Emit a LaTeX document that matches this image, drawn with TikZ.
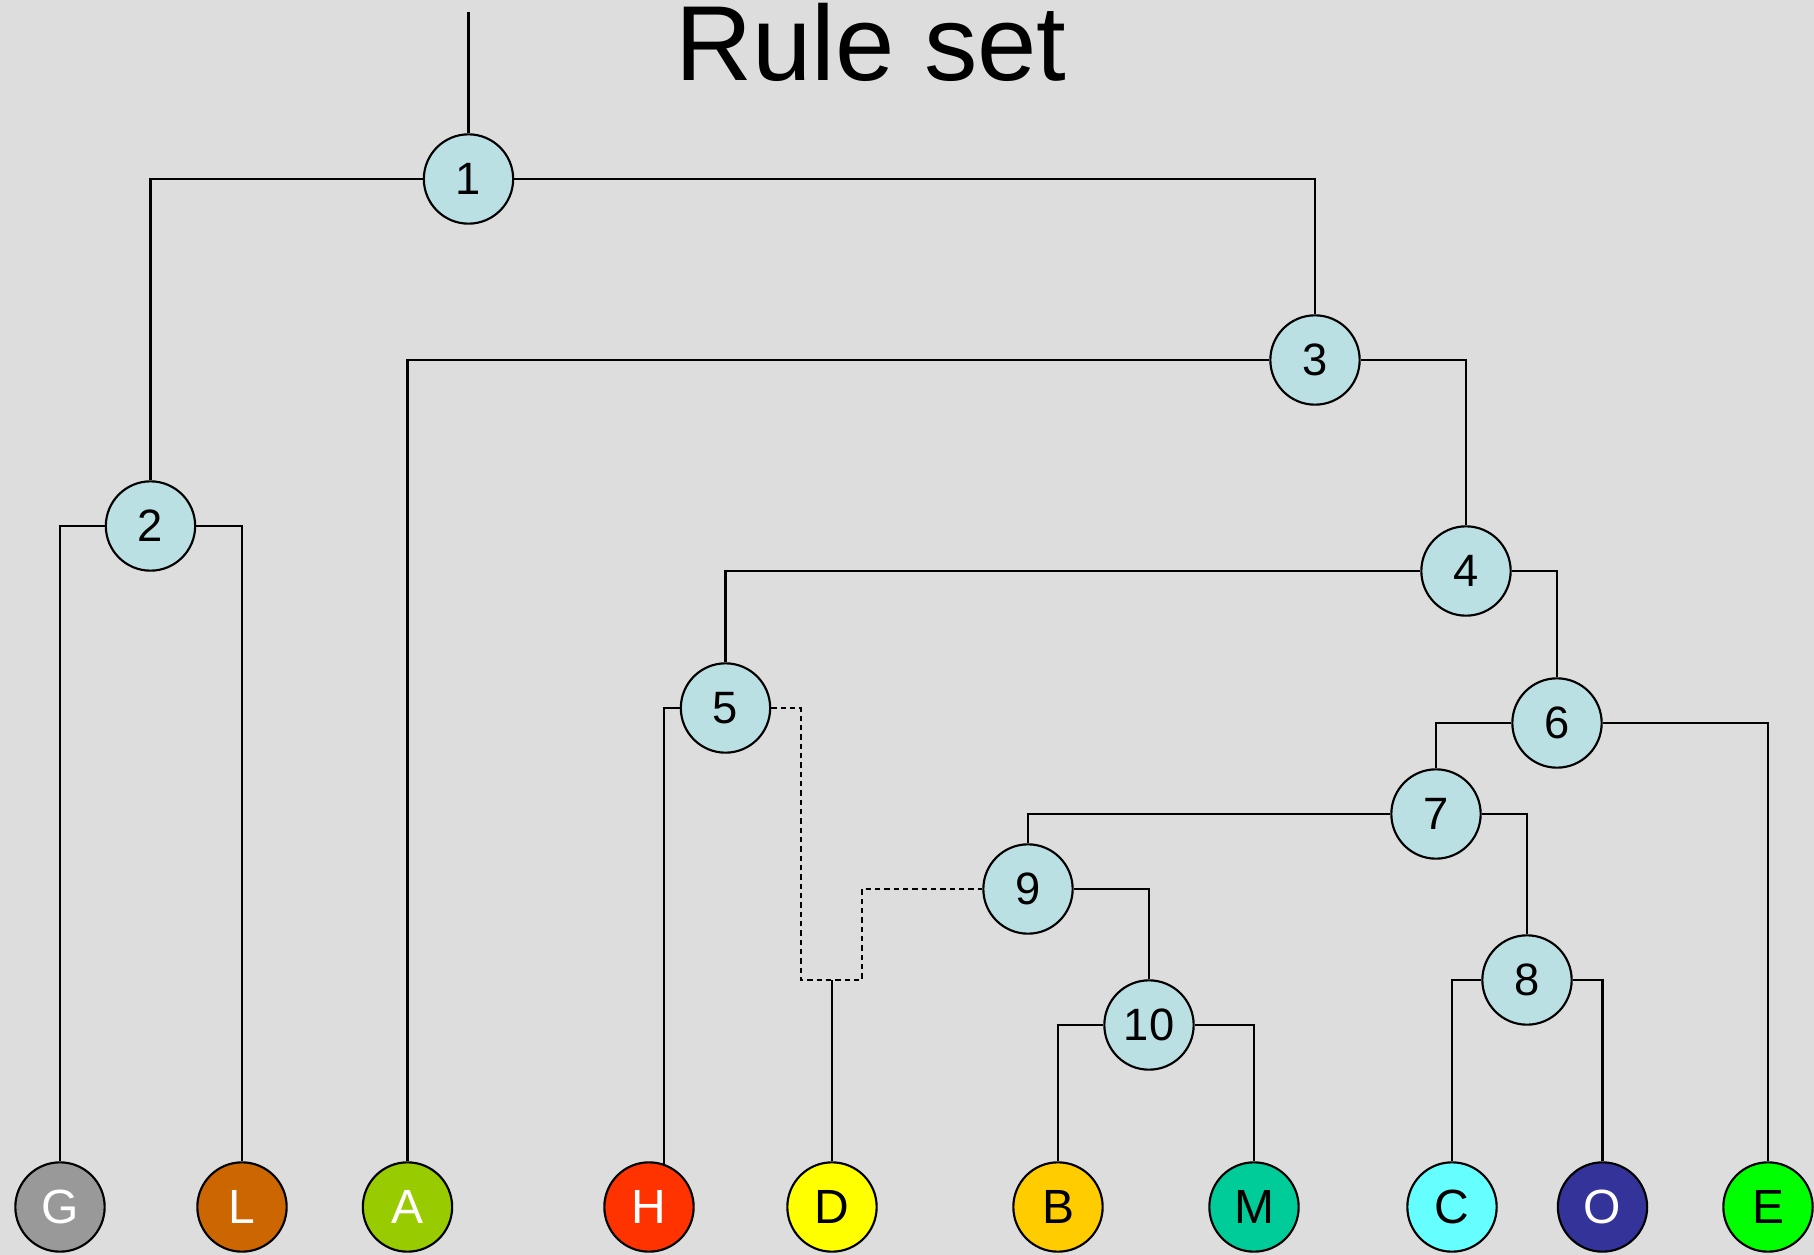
\documentclass[tikz,border=0pt]{standalone}
\usepackage{fontspec}
\setmainfont{Liberation Sans}
\definecolor{bgc}{HTML}{DDDDDD}
\definecolor{inner}{HTML}{BBE0E3}
\definecolor{cG}{HTML}{999999}
\definecolor{cL}{HTML}{CC6600}
\definecolor{cA}{HTML}{99CC00}
\definecolor{cH}{HTML}{FF3300}
\definecolor{cD}{HTML}{FFFF00}
\definecolor{cB}{HTML}{FFCC00}
\definecolor{cM}{HTML}{00CC99}
\definecolor{cC}{HTML}{66FFFF}
\definecolor{cO}{HTML}{333399}
\definecolor{cE}{HTML}{00FF00}
\tikzset{
  rule/.style={circle, draw=black, line width=1.6pt, fill=inner, minimum size=67pt, inner sep=0pt, font=\fontsize{34}{36}\selectfont},
  leaf/.style={circle, draw=black, line width=1.6pt, fill=#1, minimum size=67pt, inner sep=0pt, font=\fontsize{36}{38}\selectfont},
  conn/.style={line width=1.6pt, black},
  dconn/.style={line width=1.6pt, black, dash pattern=on 4pt off 3pt}
}
\begin{document}
\begin{tikzpicture}[x=0.75pt, y=-0.75pt]
\fill[bgc] (0,0) rectangle (1814,1255);
\useasboundingbox (0,0) rectangle (1814,1255);
\node[anchor=base, font=\fontsize{80}{84}\selectfont] (title) at (871,81) {Rule set};
% leaves
\node[leaf=cG, text=white] (G) at (60,1207) {G};
\node[leaf=cL, text=white] (L) at (242,1207) {L};
\node[leaf=cA, text=white] (A) at (407.5,1207) {A};
\node[leaf=cH, text=white] (H) at (649,1207) {H};
\node[leaf=cD] (D) at (832,1207) {D};
\node[leaf=cB] (B) at (1058,1207) {B};
\node[leaf=cM] (M) at (1254,1207) {M};
\node[leaf=cC] (C) at (1452,1207) {C};
\node[leaf=cO, text=white] (O) at (1602.5,1207) {O};
\node[leaf=cE] (E) at (1768,1207) {E};
% rule nodes
\node[rule] (n1) at (468.5,179) {1};
\node[rule] (n2) at (150.5,526) {2};
\node[rule] (n3) at (1315,360) {3};
\node[rule] (n4) at (1466,571) {4};
\node[rule] (n5) at (725.5,708) {5};
\node[rule] (n6) at (1557,723) {6};
\node[rule] (n7) at (1436,814) {7};
\node[rule] (n8) at (1527,980) {8};
\node[rule] (n9) at (1028,889) {9};
\node[rule] (n10) at (1149,1025) {10};
\coordinate (top) at (468.5,12);
\coordinate (d1) at (801,980);
\coordinate (d2) at (862,980);
\draw[conn] (top) -- (n1.north);
\draw[conn] (n1.west) -| (n2.north);
\draw[conn] (n1.east) -| (n3.north);
\draw[conn] (n2.west) -| (G.north);
\draw[conn] (n2.east) -| (L.north);
\draw[conn] (n3.west) -| (A.north);
\draw[conn] (n3.east) -| (n4.north);
\draw[conn] (n4.west) -| (n5.north);
\draw[conn] (n4.east) -| (n6.north);
\draw[conn] (n5.west) -| (H.71);
\draw[dconn] (n5.east) -| (d1) -- (d2) |- (n9.west);
\draw[conn] (D.north) -- (D.north |- d1);
\draw[conn] (n6.west) -| (n7.north);
\draw[conn] (n6.east) -| (E.north);
\draw[conn] (n9.north) |- (n7.west);
\draw[conn] (n7.east) -| (n8.north);
\draw[conn] (n8.west) -| (C.north);
\draw[conn] (n8.east) -| (O.north);
\draw[conn] (n9.east) -| (n10.north);
\draw[conn] (n10.west) -| (B.north);
\draw[conn] (n10.east) -| (M.north);
\end{tikzpicture}
\end{document}
